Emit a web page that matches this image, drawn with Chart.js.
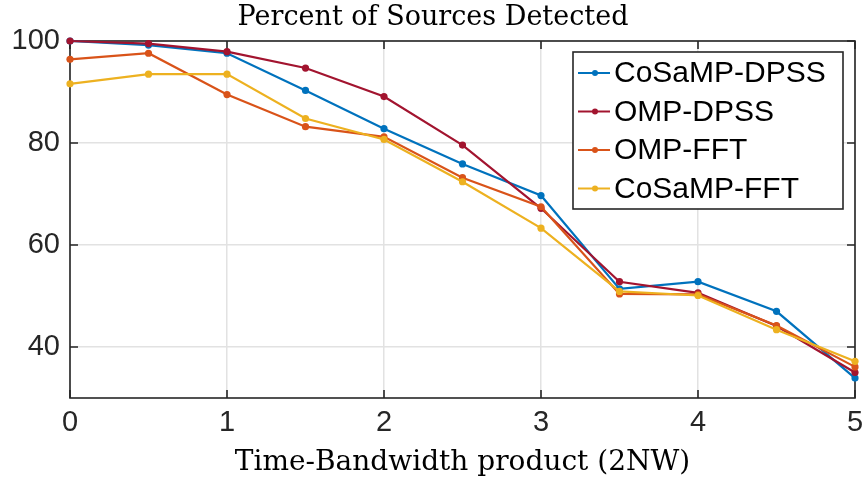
<!DOCTYPE html>
<html>
<head>
<meta charset="utf-8">
<script src="https://cdn.jsdelivr.net/npm/chart.js@4.4.1/dist/chart.umd.min.js"></script>
<style>
  html, body { margin: 0; padding: 0; background: #ffffff; }
  #wrap { width: 866px; height: 482px; }
</style>
</head>
<body>
<div id="wrap"><canvas id="chart" width="866" height="482"></canvas></div>
<script>
// Time-bandwidth product values on the x axis
const bandwidth = [0, 0.5, 1, 1.5, 2, 2.5, 3, 3.5, 4, 4.5, 5];

// Percent of sources detected for each method
const cosampDpss = [100, 99.2, 97.6, 90.3, 82.8, 75.9, 69.7, 51.4, 52.8, 47.0, 33.9];
const ompDpss    = [100, 99.5, 97.9, 94.7, 89.1, 79.6, 67.2, 52.8, 50.6, 44.1, 35.0];
const ompFft     = [96.4, 97.6, 89.5, 83.2, 81.2, 73.2, 67.5, 50.4, 50.3, 44.2, 36.1];
const cosampFft  = [91.6, 93.5, 93.5, 84.8, 80.7, 72.4, 63.3, 50.9, 50.1, 43.4, 37.2];

const seriesNames  = ['CoSaMP-DPSS', 'OMP-DPSS', 'OMP-FFT', 'CoSaMP-FFT'];
const seriesValues = [cosampDpss, ompDpss, ompFft, cosampFft];
const seriesColors = ['#0072BD', '#A2142F', '#D95319', '#EDB120'];

const xTicks = [0, 1, 2, 3, 4, 5];
const yTicks = [40, 60, 80, 100];

const AXIS_COLOR = '#262626';
const GRID_COLOR = '#e2e2e2';
const SANS = "'Liberation Sans', Arial, Helvetica, sans-serif";
const SERIF = "'DejaVu Serif', serif";

const datasets = seriesNames.map((name, i) => ({
  label: name,
  data: bandwidth.map((x, j) => ({ x: x, y: seriesValues[i][j] })),
  borderColor: seriesColors[i],
  backgroundColor: seriesColors[i],
  borderWidth: 2.2,
  pointRadius: 3.6,
  pointHoverRadius: 3.6,
  pointBorderWidth: 0,
  tension: 0,
  clip: false,
  order: seriesNames.length - i   // later series are drawn on top
}));

// Axes box with inward tick marks, drawn beneath the data
const axesBox = {
  id: 'axesBox',
  beforeDatasetsDraw(chart) {
    const { ctx, chartArea: a, scales } = chart;
    const tick = 8;
    ctx.save();
    ctx.strokeStyle = AXIS_COLOR;
    ctx.lineWidth = 1.6;
    ctx.beginPath();
    xTicks.forEach(v => {
      const px = scales.x.getPixelForValue(v);
      ctx.moveTo(px, a.bottom); ctx.lineTo(px, a.bottom - tick);
      ctx.moveTo(px, a.top);    ctx.lineTo(px, a.top + tick);
    });
    yTicks.forEach(v => {
      const py = scales.y.getPixelForValue(v);
      ctx.moveTo(a.left, py);  ctx.lineTo(a.left + tick, py);
      ctx.moveTo(a.right, py); ctx.lineTo(a.right - tick, py);
    });
    ctx.stroke();
    ctx.strokeRect(a.left, a.top, a.right - a.left, a.bottom - a.top);
    ctx.restore();
  }
};

// Boxed legend in the upper right corner of the plot
const boxLegend = {
  id: 'boxLegend',
  afterDatasetsDraw(chart) {
    const { ctx, chartArea: a } = chart;
    const w = 270, h = 157;
    const left = a.right - 12 - w;
    const top = a.top + 11;
    const rowH = 38.5;
    ctx.save();
    ctx.fillStyle = '#ffffff';
    ctx.fillRect(left, top, w, h);
    ctx.strokeStyle = AXIS_COLOR;
    ctx.lineWidth = 1.6;
    ctx.strokeRect(left, top, w, h);
    ctx.font = '30px ' + SANS;
    ctx.textBaseline = 'middle';
    ctx.textAlign = 'left';
    chart.data.datasets.forEach((ds, i) => {
      const y = top + 21 + i * rowH;
      ctx.strokeStyle = ds.borderColor;
      ctx.lineWidth = 2;
      ctx.beginPath();
      ctx.moveTo(left + 5, y); ctx.lineTo(left + 37, y);
      ctx.stroke();
      ctx.fillStyle = ds.borderColor;
      ctx.beginPath();
      ctx.arc(left + 22, y, 3, 0, Math.PI * 2);
      ctx.fill();
      ctx.fillStyle = '#000000';
      ctx.fillText(ds.label, left + 41, y + 1);
    });
    ctx.restore();
  }
};

new Chart(document.getElementById('chart'), {
  type: 'line',
  data: { datasets: datasets },
  options: {
    responsive: false,
    animation: false,
    devicePixelRatio: 1,
    layout: { padding: { left: 0, right: 0, top: 0, bottom: 0 } },
    plugins: {
      legend: { display: false },
      tooltip: { enabled: false },
      title: {
        display: true,
        text: 'Percent of Sources Detected',
        color: '#000000',
        font: { family: SERIF, size: 27, weight: 'normal', lineHeight: 1.2 },
        padding: { top: 2, bottom: 6.6 }
      }
    },
    scales: {
      x: {
        type: 'linear',
        min: 0,
        max: 5,
        afterBuildTicks(scale) { scale.ticks = xTicks.map(v => ({ value: v })); },
        afterFit(scale) {
          scale.height = 84;
          scale.paddingLeft = 0;
          scale.paddingRight = 11;
        },
        grid: { color: GRID_COLOR, lineWidth: 1.5, drawTicks: false },
        border: { display: false },
        ticks: {
          color: AXIS_COLOR,
          padding: 8,
          maxRotation: 0,
          font: { family: SANS, size: 29 }
        },
        title: {
          display: true,
          text: 'Time-Bandwidth product (2NW)',
          color: '#000000',
          font: { family: SERIF, size: 28, weight: 'normal', lineHeight: 1.2 },
          padding: { top: 0, bottom: 2 }
        }
      },
      y: {
        type: 'linear',
        min: 30,
        max: 100,
        afterBuildTicks(scale) { scale.ticks = yTicks.map(v => ({ value: v })); },
        afterFit(scale) { scale.width = 70; },
        grid: { color: GRID_COLOR, lineWidth: 1.5, drawTicks: false },
        border: { display: false },
        ticks: {
          color: AXIS_COLOR,
          padding: 10,
          font: { family: SANS, size: 29 }
        }
      }
    }
  },
  plugins: [axesBox, boxLegend]
});
</script>
</body>
</html>
